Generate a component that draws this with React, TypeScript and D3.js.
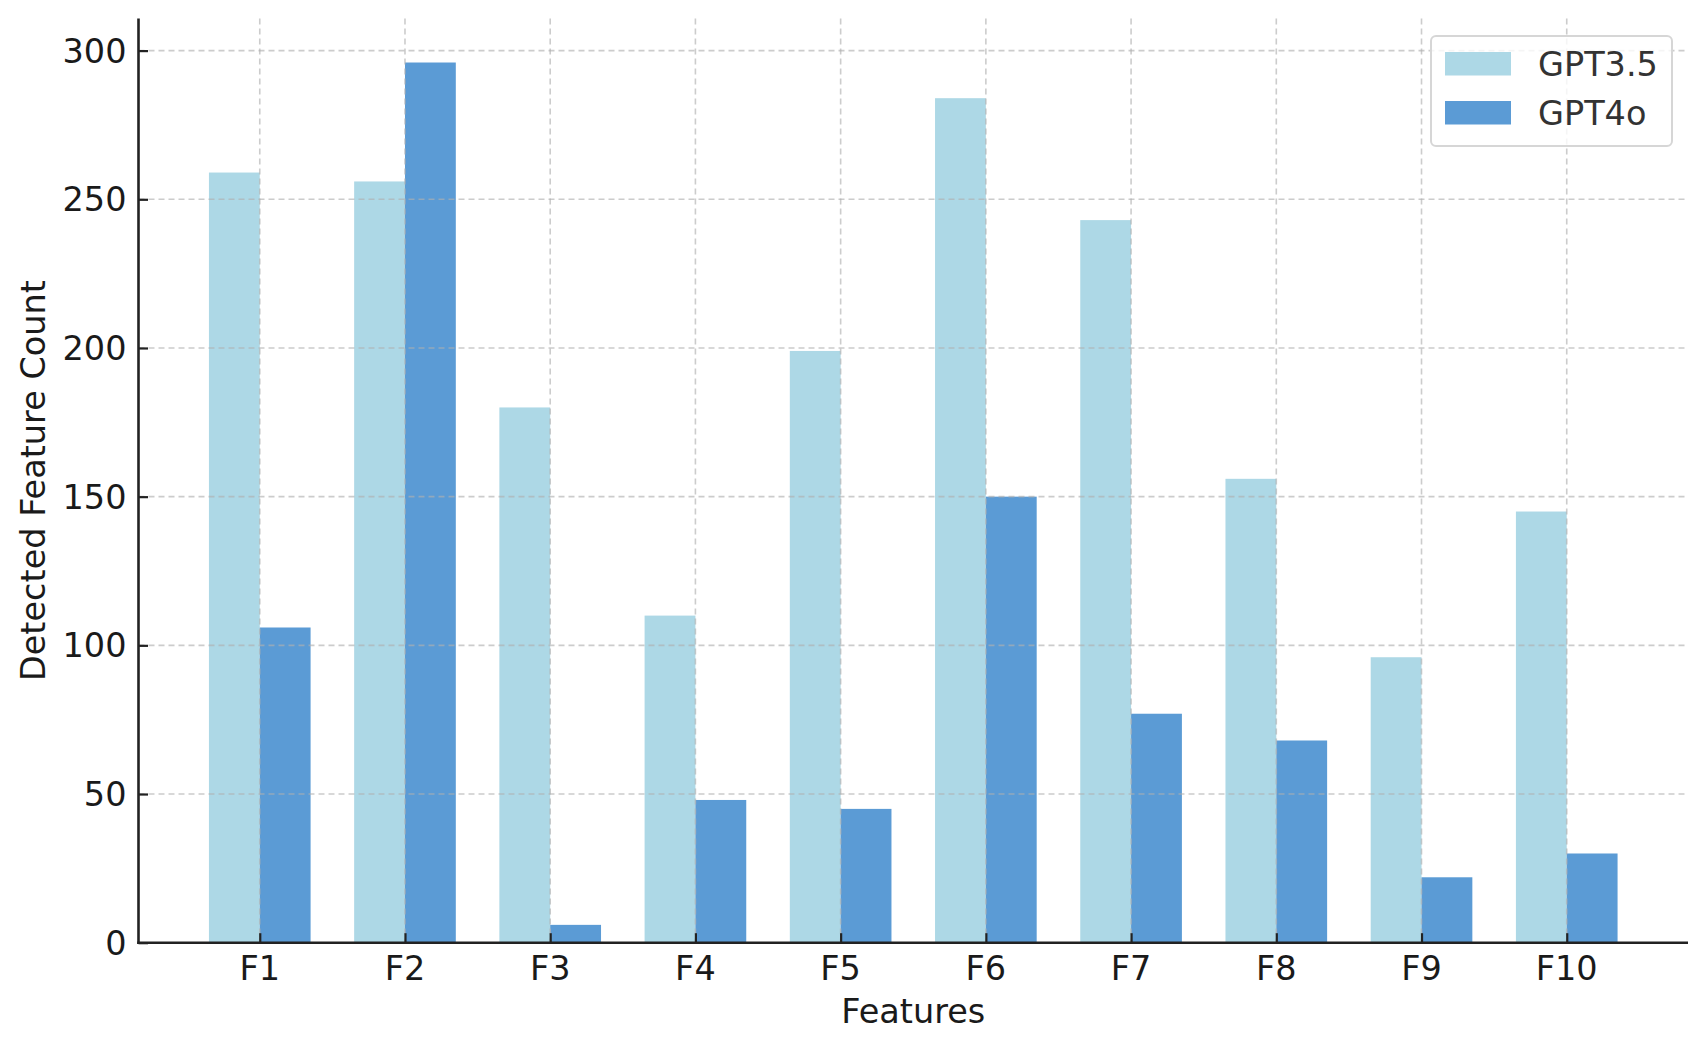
import { useEffect, useRef } from 'react'
import * as d3 from 'd3'

const features = ['F1', 'F2', 'F3', 'F4', 'F5', 'F6', 'F7', 'F8', 'F9', 'F10']
const gpt35 = [259, 256, 180, 110, 199, 284, 243, 156, 96, 145]
const gpt4o = [106, 296, 6, 48, 45, 150, 77, 68, 22, 30]
const yTicks = [0, 50, 100, 150, 200, 250, 300]

const seriesNames = ['GPT3.5', 'GPT4o']
const seriesColors = ['#ADD8E6', '#5B9BD5']

export default function App() {
  const svgRef = useRef<SVGSVGElement>(null)

  useEffect(() => {
    document.body.style.margin = '0'
    if (!svgRef.current) return

    const svg = d3.select(svgRef.current)
    svg.selectAll('*').remove()

    const width = 1707
    const height = 1050
    const left = 138.5
    const right = 1688
    const top = 18.5
    const bottom = 942.7
    const barW = 0.35
    const font = 'DejaVu Sans, sans-serif'
    const fs = 33.5

    // matplotlib-like auto limits
    const x = d3.scaleLinear()
      .domain([-barW - 0.485, features.length - 1 + barW + 0.485])
      .range([left, right])
    const yMax = d3.max(gpt4o.concat(gpt35))! * 1.05
    const y = d3.scaleLinear().domain([0, yMax]).range([bottom, top])

    svg.attr('width', width).attr('height', height)
      .style('display', 'block')
      .style('background', '#fff')

    // Bars
    const bars = svg.append('g')
    bars.selectAll('.b35')
      .data(gpt35)
      .enter()
      .append('rect')
      .attr('x', (_, i) => x(i - barW))
      .attr('y', d => y(d))
      .attr('width', x(barW) - x(0))
      .attr('height', d => y(0) - y(d))
      .attr('fill', seriesColors[0])
    bars.selectAll('.b4o')
      .data(gpt4o)
      .enter()
      .append('rect')
      .attr('x', (_, i) => x(i))
      .attr('y', d => y(d))
      .attr('width', x(barW) - x(0))
      .attr('height', d => y(0) - y(d))
      .attr('fill', seriesColors[1])

    // Grid on top
    const grid = svg.append('g')
      .attr('stroke', '#b0b0b0')
      .attr('stroke-opacity', 0.65)
      .attr('stroke-width', 1.6)
      .attr('stroke-dasharray', '6,4')
    grid.selectAll('.gy')
      .data(yTicks)
      .enter()
      .append('line')
      .attr('x1', left).attr('x2', right)
      .attr('y1', d => y(d)).attr('y2', d => y(d))
    grid.selectAll('.gx')
      .data(features)
      .enter()
      .append('line')
      .attr('x1', (_, i) => x(i)).attr('x2', (_, i) => x(i))
      .attr('y1', top).attr('y2', bottom)

    // Axes (ticks point inward)
    const yAxis = svg.append('g')
      .attr('transform', `translate(${left},0)`)
      .call(d3.axisRight(y).tickValues(yTicks).tickSize(9.5).tickFormat(() => ''))
    yAxis.select('.domain').remove()
    yAxis.selectAll('line').attr('stroke', '#222').attr('stroke-width', 2.2)

    const xAxis = svg.append('g')
      .attr('transform', `translate(0,${bottom})`)
      .call(d3.axisTop(x).tickValues(d3.range(features.length)).tickSize(9.5).tickFormat(() => ''))
    xAxis.select('.domain').remove()
    xAxis.selectAll('line').attr('stroke', '#222').attr('stroke-width', 2.2)

    // Tick labels
    svg.append('g').selectAll('text')
      .data(yTicks)
      .enter()
      .append('text')
      .attr('x', left - 12)
      .attr('y', d => y(d) + 12)
      .attr('text-anchor', 'end')
      .attr('font-family', font)
      .attr('font-size', fs)
      .attr('fill', '#1a1a1a')
      .text(d => String(d))

    svg.append('g').selectAll('text')
      .data(features)
      .enter()
      .append('text')
      .attr('x', (_, i) => x(i))
      .attr('y', bottom + 37)
      .attr('text-anchor', 'middle')
      .attr('font-family', font)
      .attr('font-size', fs)
      .attr('fill', '#1a1a1a')
      .text(d => d)

    // Spines
    svg.append('line')
      .attr('x1', left).attr('x2', left)
      .attr('y1', top).attr('y2', bottom + 1.3)
      .attr('stroke', '#222').attr('stroke-width', 2.6)
    svg.append('line')
      .attr('x1', left - 1.3).attr('x2', right)
      .attr('y1', bottom).attr('y2', bottom)
      .attr('stroke', '#222').attr('stroke-width', 2.6)

    // Axis labels
    svg.append('text')
      .attr('x', (left + right) / 2)
      .attr('y', 1023)
      .attr('text-anchor', 'middle')
      .attr('font-family', font)
      .attr('font-size', fs)
      .attr('fill', '#1a1a1a')
      .text('Features')
    svg.append('text')
      .attr('transform', `translate(45,${(top + bottom) / 2}) rotate(-90)`)
      .attr('text-anchor', 'middle')
      .attr('font-family', font)
      .attr('font-size', fs)
      .attr('fill', '#1a1a1a')
      .text('Detected Feature Count')

    // Legend
    const legend = svg.append('g')
    legend.append('rect')
      .attr('x', 1431).attr('y', 36)
      .attr('width', 241).attr('height', 110)
      .attr('rx', 5)
      .attr('fill', '#fff').attr('fill-opacity', 0.8)
      .attr('stroke', '#d6d6d6').attr('stroke-width', 2)
    const items = legend.selectAll('.item')
      .data(seriesNames)
      .enter()
      .append('g')
      .attr('transform', (_, i) => `translate(1445,${52 + i * 49})`)
    items.append('rect')
      .attr('width', 66).attr('height', 23.5)
      .attr('fill', (_, i) => seriesColors[i])
    items.append('text')
      .attr('x', 93)
      .attr('y', 23.5)
      .attr('font-family', font)
      .attr('font-size', fs)
      .attr('fill', '#333')
      .text(d => d)
  }, [])

  return <svg ref={svgRef} />
}
